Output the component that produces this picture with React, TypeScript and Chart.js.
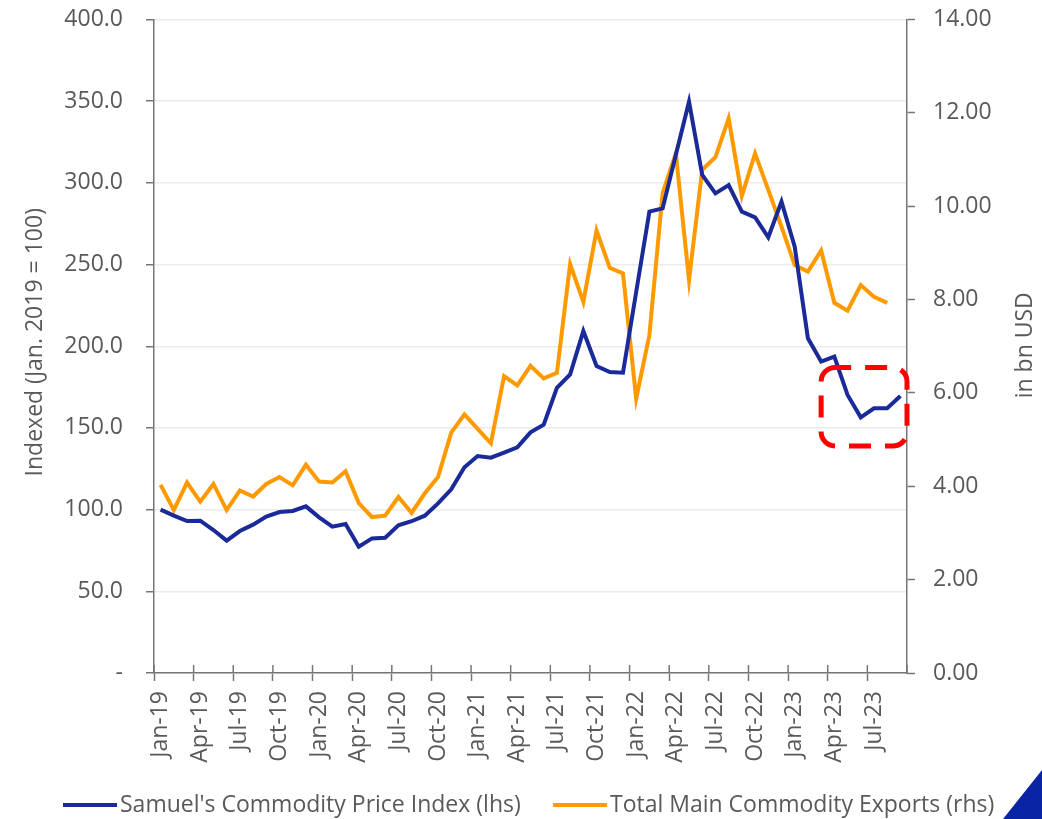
import React, { useEffect, useRef } from 'react';
import { Chart, registerables } from 'chart.js';

Chart.register(...registerables);

const months = [
  'Jan-19', 'Feb-19', 'Mar-19', 'Apr-19', 'May-19', 'Jun-19', 'Jul-19', 'Aug-19', 'Sep-19', 'Oct-19', 'Nov-19', 'Dec-19',
  'Jan-20', 'Feb-20', 'Mar-20', 'Apr-20', 'May-20', 'Jun-20', 'Jul-20', 'Aug-20', 'Sep-20', 'Oct-20', 'Nov-20', 'Dec-20',
  'Jan-21', 'Feb-21', 'Mar-21', 'Apr-21', 'May-21', 'Jun-21', 'Jul-21', 'Aug-21', 'Sep-21', 'Oct-21', 'Nov-21', 'Dec-21',
  'Jan-22', 'Feb-22', 'Mar-22', 'Apr-22', 'May-22', 'Jun-22', 'Jul-22', 'Aug-22', 'Sep-22', 'Oct-22', 'Nov-22', 'Dec-22',
  'Jan-23', 'Feb-23', 'Mar-23', 'Apr-23', 'May-23', 'Jun-23', 'Jul-23', 'Aug-23', 'Sep-23',
];

// Samuel's Commodity Price Index (lhs), Jan. 2019 = 100
const priceIndex = [
  100, 96.3, 93.0, 93.2, 87.5, 81.0, 86.9, 90.8, 95.7, 98.5, 99.2, 102.0,
  95.3, 89.6, 91.2, 77.3, 82.4, 82.8, 90.4, 92.9, 96.3, 103.8, 112.4, 125.9,
  132.8, 131.8, 134.9, 138.1, 147.3, 152.0, 174.6, 182.8, 209.3, 187.9, 184.2, 183.8,
  233.2, 282.4, 284.4, 317.0, 349.7, 304.8, 293.6, 298.7, 282.4, 278.9, 266.7, 288.5,
  261.0, 204.9, 190.6, 193.6, 170.2, 156.5, 162.0, 162.0, 169.5,
];

// Total Main Commodity Exports (rhs), bn USD
const exportsBn = [
  4.03, 3.49, 4.08, 3.67, 4.05, 3.49, 3.91, 3.78, 4.05, 4.20, 4.02, 4.46,
  4.10, 4.08, 4.32, 3.64, 3.34, 3.37, 3.77, 3.43, 3.85, 4.20, 5.15, 5.54,
  5.23, 4.92, 6.36, 6.16, 6.58, 6.31, 6.43, 8.76, 7.95, 9.48, 8.68, 8.56,
  5.88, 7.24, 10.28, 11.13, 8.42, 10.78, 11.05, 11.88, 10.22, 11.13, 10.35, 9.56,
  8.74, 8.60, 9.05, 7.93, 7.76, 8.31, 8.06, 7.93,
];

const seriesNames = ["Samuel's Commodity Price Index (lhs)", 'Total Main Commodity Exports (rhs)'];
const leftTitle = 'Indexed (Jan. 2019 = 100)';
const rightTitle = 'in bn USD';

// highlighted region (category index / lhs values)
const highlightFrom = 50;
const highlightTop = 187;
const highlightBottom = 139;

const BLUE = '#1a2a99';
const ORANGE = '#ff9900';
const TEXT = '#595959';
const AXIS = '#767676';
const GRID = '#ececec';
const FONT = "'Open Sans', 'Noto Sans', sans-serif";
const FS = 23;

const zeroPad = (s: any) => {
  s.paddingTop = 0;
  s.paddingBottom = 0;
  s.paddingLeft = 0;
  s.paddingRight = 0;
};

const decorPlugin = {
  id: 'decor',
  afterDraw(chart: any) {
    const { ctx, chartArea, scales } = chart;
    const x = scales.x;
    const y = scales.y;
    ctx.save();
    // upper half of crossing tick marks on category axis
    const step = x.getPixelForValue(1) - x.getPixelForValue(0);
    ctx.strokeStyle = AXIS;
    ctx.lineWidth = 1.5;
    for (let i = 0; i <= months.length; i += 3) {
      const px = x.getPixelForValue(0) + (i - 0.5) * step;
      ctx.beginPath();
      ctx.moveTo(px, chartArea.bottom - 8);
      ctx.lineTo(px, chartArea.bottom);
      ctx.stroke();
    }
    // axis titles
    ctx.fillStyle = TEXT;
    ctx.font = `${FS}px ${FONT}`;
    ctx.textAlign = 'center';
    ctx.textBaseline = 'middle';
    ctx.save();
    ctx.translate(35, (chartArea.top + chartArea.bottom) / 2 - 4);
    ctx.rotate(-Math.PI / 2);
    ctx.fillText(leftTitle, 0, 0);
    ctx.restore();
    ctx.save();
    ctx.translate(1025, (chartArea.top + chartArea.bottom) / 2 - 1);
    ctx.rotate(-Math.PI / 2);
    ctx.fillText(rightTitle, 0, 0);
    ctx.restore();
    // red dashed highlight box
    const x0 = x.getPixelForValue(highlightFrom);
    const x1 = chartArea.right;
    const y0 = y.getPixelForValue(highlightTop);
    const y1 = y.getPixelForValue(highlightBottom);
    ctx.strokeStyle = '#ff0000';
    ctx.lineWidth = 5;
    ctx.setLineDash([22, 14]);
    ctx.lineDashOffset = 6;
    ctx.beginPath();
    (ctx as any).roundRect(x0, y0, x1 - x0, y1 - y0, 14);
    ctx.stroke();
    ctx.restore();
  },
};

function ChartView() {
  const ref = useRef<HTMLCanvasElement | null>(null);
  useEffect(() => {
    if (!ref.current) return;
    const chart = new Chart(ref.current, {
      type: 'line',
      data: {
        labels: months,
        datasets: [
          {
            label: seriesNames[0],
            data: priceIndex,
            borderColor: BLUE,
            backgroundColor: BLUE,
            borderWidth: 4,
            pointRadius: 0,
            tension: 0,
            yAxisID: 'y',
          },
          {
            label: seriesNames[1],
            data: exportsBn,
            borderColor: ORANGE,
            backgroundColor: ORANGE,
            borderWidth: 4,
            pointRadius: 0,
            tension: 0,
            yAxisID: 'y1',
          },
        ],
      },
      options: {
        responsive: false,
        animation: false,
        layout: { padding: { top: 19.5, left: 0, right: 0, bottom: 0 } },
        plugins: { legend: { display: false }, tooltip: { enabled: false } },
        scales: {
          x: {
            type: 'category',
            offset: true,
            grid: {
              offset: true,
              drawOnChartArea: false,
              tickLength: 8,
              tickWidth: 1.5,
              tickColor: (c: any) => (c.index % 3 === 0 ? AXIS : 'rgba(0,0,0,0)'),
            },
            border: { color: AXIS, width: 1.5 },
            ticks: {
              autoSkip: false,
              maxRotation: 90,
              minRotation: 90,
              padding: 10,
              color: TEXT,
              font: { family: FONT, size: FS },
              callback: (_v: any, i: number) => (i % 3 === 0 ? months[i] : ''),
            },
            afterFit: (s: any) => {
              s.height = 146;
              zeroPad(s);
            },
          },
          y: {
            position: 'left',
            min: 0,
            max: 400,
            grid: { color: GRID, lineWidth: 1.5, tickColor: AXIS, tickLength: 8, tickWidth: 1.5 },
            border: { color: AXIS, width: 1.5 },
            ticks: {
              stepSize: 50,
              padding: 23,
              color: TEXT,
              font: { family: FONT, size: FS },
              callback: (v: any) => (Number(v) === 0 ? '-' : Number(v).toFixed(1)),
            },
            afterFit: (s: any) => {
              s.width = 154;
              zeroPad(s);
            },
          },
          y1: {
            position: 'right',
            min: 0,
            max: 14,
            grid: { drawOnChartArea: false, tickColor: AXIS, tickLength: 8, tickWidth: 1.5 },
            border: { color: AXIS, width: 1.5 },
            ticks: {
              stepSize: 2,
              padding: 18,
              color: TEXT,
              font: { family: FONT, size: FS },
              callback: (v: any) => Number(v).toFixed(2),
            },
            afterFit: (s: any) => {
              s.width = 135;
              zeroPad(s);
            },
          },
        },
      },
      plugins: [decorPlugin],
    });
    return () => chart.destroy();
  }, []);
  return <canvas ref={ref} width={1042} height={819} style={{ display: 'block' }} />;
}

export default function App() {
  const legendText: React.CSSProperties = {
    position: 'absolute',
    top: 788,
    fontFamily: FONT,
    fontSize: FS,
    lineHeight: '30px',
    color: TEXT,
    whiteSpace: 'nowrap',
  };
  const legendLine = (left: number, color: string): React.CSSProperties => ({
    position: 'absolute',
    left,
    top: 803,
    width: 54,
    height: 4,
    background: color,
  });
  return (
    <div style={{ position: 'absolute', left: 0, top: 0, width: 1042, height: 819, background: '#fff', overflow: 'hidden' }}>
      <ChartView />
      <div style={legendLine(63, BLUE)} />
      <span style={{ ...legendText, left: 120 }}>{seriesNames[0]}</span>
      <div style={legendLine(553, ORANGE)} />
      <span style={{ ...legendText, left: 610 }}>{seriesNames[1]}</span>
      <div
        style={{
          position: 'absolute',
          left: 1003,
          top: 770,
          width: 39,
          height: 49,
          background: '#0a24a6',
          clipPath: 'polygon(100% 0, 100% 100%, 0 100%)',
        }}
      />
    </div>
  );
}
